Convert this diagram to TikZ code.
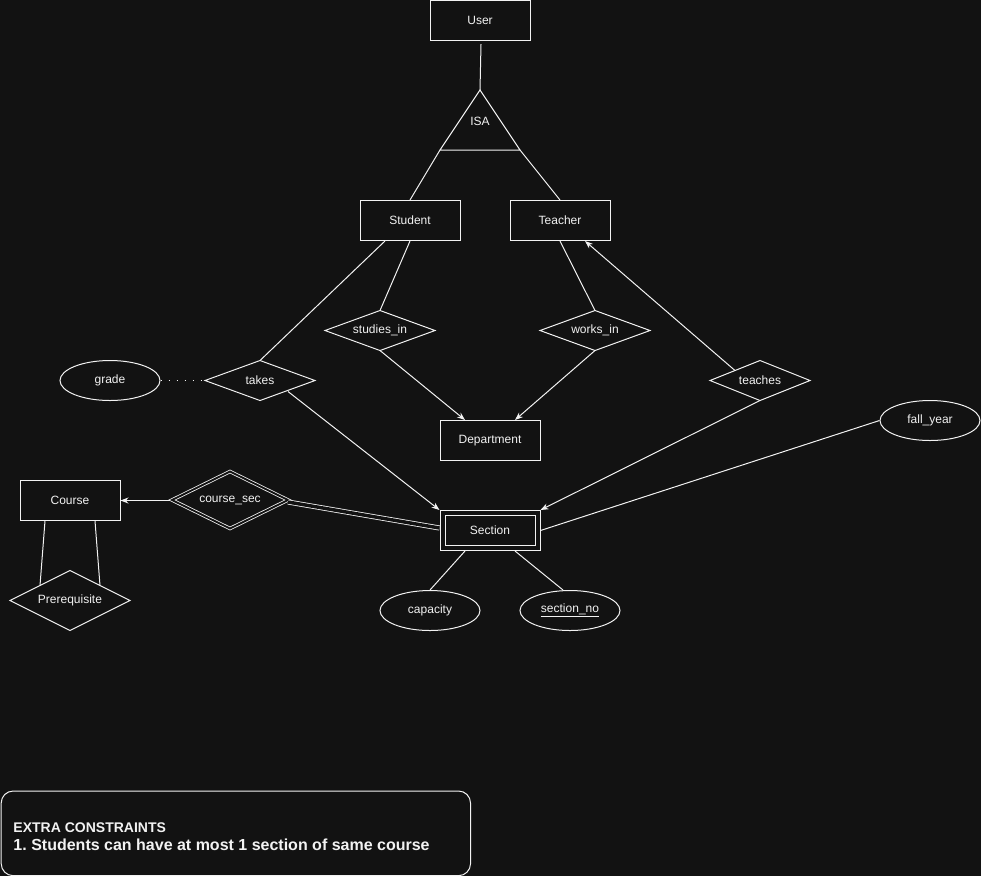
\documentclass[tikz,border=0pt]{standalone}
\usepackage{fontspec}
\setmainfont{Liberation Sans}
\usetikzlibrary{arrows.meta,calc,shapes.geometric}
\definecolor{bg}{HTML}{121212}
\definecolor{ink}{HTML}{F2F2F2}
\frenchspacing

% relationship diamond: name, x, y, half width, half height, label
\newcommand\reldiamond[6]{%
  \node[lbl] (#1) at (#2,#3) {#6};
  \draw[ink] (#2-#4,#3) -- (#2,#3-#5) -- (#2+#4,#3) -- (#2,#3+#5) -- cycle;}

\begin{document}
\begin{tikzpicture}[x=0.75pt,y=-0.75pt,line width=0.75pt,
  every node/.style={text=ink,font=\fontsize{9}{11}\selectfont},
  entity/.style={draw=ink,minimum width=75pt,minimum height=30pt,inner sep=0pt},
  attr/.style={draw=ink,ellipse,minimum width=75pt,minimum height=30pt,inner sep=0pt},
  lbl/.style={inner sep=0pt},
  link/.style={draw=ink},
  arr/.style={draw=ink,-{Stealth[length=6pt,width=4.5pt]}},
  dbl/.style={draw=ink,double=bg,double distance=1.4pt,line width=0.6pt},
  dblline/.style={draw=ink,double=bg,double distance=2.6pt,line width=0.6pt},
  dotline/.style={draw=ink,line width=1.3pt,dash pattern=on 1.3pt off 4.7pt}]

% canvas
\fill[bg] (0,0) rectangle (981,876);
\useasboundingbox (0,0) rectangle (981,876);

% entities
\node[entity] (user) at (480,20.5) {User};
\node[entity] (student) at (410,220.5) {Student};
\node[entity] (teacher) at (560,220.5) {Teacher};
\node[entity] (dept) at (490,440.5) {Department};
\node[entity] (course) at (70,500.5) {Course};
\node[entity] (section) at (490,530.5) {};
\node[draw=ink,minimum width=67.5pt,minimum height=22.5pt,inner sep=0pt] (sectioninner) at (490,530.5) {Section};

% ISA triangle
\coordinate (isatop) at (480,90);
\coordinate (isaleft) at (440,150);
\coordinate (isaright) at (520,150);
\draw[ink] (isatop) -- (isaright) -- (isaleft) -- cycle;
\node[lbl] (isa) at (480,121) {ISA};

% attributes
\node[attr] (grade) at (110,380.5) {grade};
\node[attr] (fallyear) at (930,420.5) {fall\_year};
\node[attr] (capacity) at (430,610.5) {capacity};
\node[attr] (secno) at (570,610.5) {\underline{section\_no}};

% relationships
\reldiamond{studiesin}{380}{330.5}{55}{20}{studies\_in}
\reldiamond{worksin}{595}{330.5}{55}{20}{works\_in}
\reldiamond{takes}{260}{380.5}{55}{20}{takes}
\reldiamond{teaches}{760}{380.5}{50}{20}{teaches}
\reldiamond{prereq}{70}{600.5}{60}{30}{Prerequisite}
\node[lbl] (coursesec) at (230,500.5) {course\_sec};
\draw[dbl] (172,500) -- (230,471.5) -- (288,500) -- (230,528.5) -- cycle;

% ISA links
\draw[link] ($(user.south)+(1,3)$) -- (isatop);
\draw[link] (isaleft) -- (student.north);
\draw[link] (isaright) -- (teacher.north);

% student / teacher relationships
\draw[link] ($(student.south)+(-25,0)$) -- ($(takes)+(0,-20)$);
\draw[link] (student.south) -- ($(studiesin)+(0,-20)$);
\draw[arr] ($(studiesin)+(0,20)$) -- ($(dept.north)+(-25,0)$);
\draw[link] (teacher.south) -- ($(worksin)+(0,-20)$);
\draw[arr] ($(worksin)+(0,20)$) -- ($(dept.north)+(25,0)$);
\draw[arr] ($(teaches)+(-25,-10)$) -- ($(teacher.south)+(25,0)$);
\draw[arr] ($(teaches)+(0,20)$) -- (section.north east);
\draw[arr] ($(takes)+(28,11)$) -- (section.north west);
\draw[dotline] (grade.east) -- ($(takes)+(-55,0)$);
\draw[link] (fallyear.west) -- (section.east);

% course / section
\draw[arr] ($(coursesec)+(-60,0)$) -- (course.east);
\draw[dblline] ($(coursesec)+(58,1.5)$) -- ($(section.west)+(0,-2.5)$);
\draw[link] ($(section.south)+(-25,0)$) -- (capacity.north);
\draw[link] ($(section.south)+(25,0)$) -- ($(secno.north)+(-7,0)$);
\draw[link] ($(course.south)+(-25,0)$) -- ($(prereq)+(-30,-15)$);
\draw[link] ($(course.south)+(25,0)$) -- ($(prereq)+(30,-15)$);

% notes box
\node[draw=ink,rounded corners=9pt,minimum width=352pt,minimum height=63.5pt,
  inner sep=0pt,anchor=north west] (notes) at (0.7,790.5) {};
\node[anchor=west,inner sep=0pt,font=\fontsize{10.5}{12}\selectfont\bfseries]
  (notestitle) at (13,828) {EXTRA CONSTRAINTS};
\node[anchor=west,inner sep=0pt,font=\fontsize{12}{14}\selectfont\bfseries]
  (notesitem) at (13,845) {1. Students can have at most 1 section of same course};
\end{tikzpicture}
\end{document}
